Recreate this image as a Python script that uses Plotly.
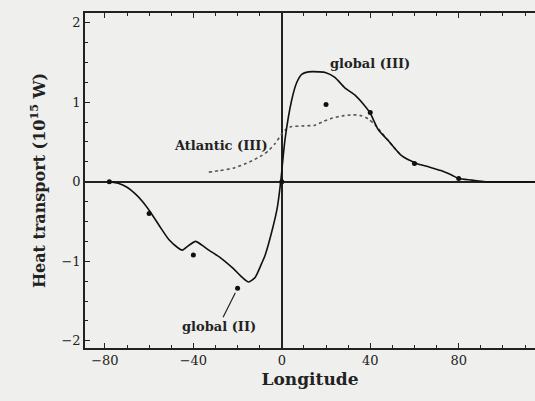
import plotly.graph_objects as go

# Global model curve (II west of 0, III east of 0)
global_x = [-78, -74, -70, -66, -63, -59, -55, -51, -47, -45, -42, -39, -36, -33, -28, -22, -18, -15,
            -12, -9, -7.5, -4, -2, -0.5, 1.4, 4.5, 6.8, 9, 12, 17, 20, 24, 28.5, 33, 37, 40, 43.5,
            48, 54, 61, 66, 72, 77, 80, 86, 92, 115]
global_y = [0.0, -0.02, -0.07, -0.16, -0.25, -0.40, -0.57, -0.73, -0.83, -0.86, -0.80, -0.75, -0.80,
            -0.86, -0.95, -1.09, -1.20, -1.26, -1.20, -1.02, -0.92, -0.57, -0.32, 0.0, 0.52, 1.03,
            1.25, 1.35, 1.38, 1.38, 1.37, 1.31, 1.18, 1.09, 0.97, 0.86, 0.66, 0.52, 0.33, 0.23,
            0.19, 0.14, 0.08, 0.04, 0.02, 0.0, 0.0]

# Atlantic (III) curve
atl_x = [-33, -28, -22, -17, -13, -9, -6, -3, 0, 2, 4, 9, 15, 19, 23, 28, 32, 36, 39, 42, 45, 48, 51, 54]
atl_y = [0.12, 0.14, 0.17, 0.22, 0.27, 0.33, 0.39, 0.48, 0.60, 0.66, 0.69, 0.70, 0.71, 0.76, 0.80,
         0.83, 0.84, 0.83, 0.79, 0.72, 0.62, 0.52, 0.42, 0.33]

# Observed points
obs_x = [-78, -60, -40, -20, 0, 20, 40, 60, 80]
obs_y = [0.0, -0.40, -0.92, -1.34, 0.0, 0.97, 0.87, 0.23, 0.04]

x_ticks = [-80, -40, 0, 40, 80]
x_ticklabels = ["\u221280", "\u221240", "0", "40", "80"]
y_ticks = [-2, -1, 0, 1, 2]
y_ticklabels = ["\u22122", "\u22121", "0", "1", "2"]

serif = "DejaVu Serif"
bg = "#efefed"
ink = "#222222"

fig = go.Figure()
fig.add_trace(go.Scatter(x=atl_x, y=atl_y, mode="lines",
                         line=dict(color="#555555", width=1.6, dash="dot", shape="spline", smoothing=0.6),
                         hoverinfo="skip"))
fig.add_trace(go.Scatter(x=global_x, y=global_y, mode="lines",
                         line=dict(color="#111111", width=1.6, shape="spline", smoothing=0.6),
                         hoverinfo="skip"))
fig.add_trace(go.Scatter(x=obs_x, y=obs_y, mode="markers",
                         marker=dict(color="#111111", size=5), hoverinfo="skip"))

lab_font = dict(family=serif, size=13, color=ink)
fig.add_annotation(x=40, y=1.49, text="<b>global (III)</b>", showarrow=False, font=lab_font)
fig.add_annotation(x=-27.6, y=0.45, text="<b>Atlantic (III)</b>", showarrow=False, font=lab_font)
fig.add_annotation(x=-20, y=-1.34, text="<b>global (II)</b>", showarrow=True, arrowhead=0,
                   arrowwidth=1.2, arrowcolor=ink, ax=-19, ay=38, standoff=5, font=lab_font)

fig.update_xaxes(range=[-89, 114.5], tickvals=x_ticks, ticktext=x_ticklabels,
                 showline=True, linecolor=ink, linewidth=1.5, mirror="ticks",
                 ticks="inside", ticklen=5, tickcolor=ink,
                 minor=dict(dtick=10, tick0=0, ticks="inside", ticklen=3, tickcolor=ink),
                 showgrid=False, zeroline=True, zerolinecolor=ink, zerolinewidth=1.5,
                 tickfont=dict(family=serif, size=13, color=ink),
                 title=dict(text="<b>Longitude</b>", font=dict(family=serif, size=17, color=ink),
                            standoff=6))
fig.update_yaxes(range=[-2.09, 2.12], tickvals=y_ticks, ticktext=y_ticklabels,
                 showline=True, linecolor=ink, linewidth=1.5,
                 ticks="inside", ticklen=5, tickcolor=ink,
                 minor=dict(dtick=0.25, tick0=0, ticks="inside", ticklen=3, tickcolor=ink),
                 showgrid=False, zeroline=True, zerolinecolor=ink, zerolinewidth=1.5,
                 tickfont=dict(family=serif, size=13, color=ink),
                 title=dict(text="<b>Heat transport (10<sup>15</sup> W)</b>",
                            font=dict(family=serif, size=16, color=ink), standoff=12))

fig.update_layout(width=535, height=401, margin=dict(l=85, r=0, t=13, b=53),
                  paper_bgcolor=bg, plot_bgcolor=bg, showlegend=False)

fig.write_html("out.html", config={"displayModeBar": False},
               post_script="document.body.style.margin='0';document.body.style.background='#efefed';")
